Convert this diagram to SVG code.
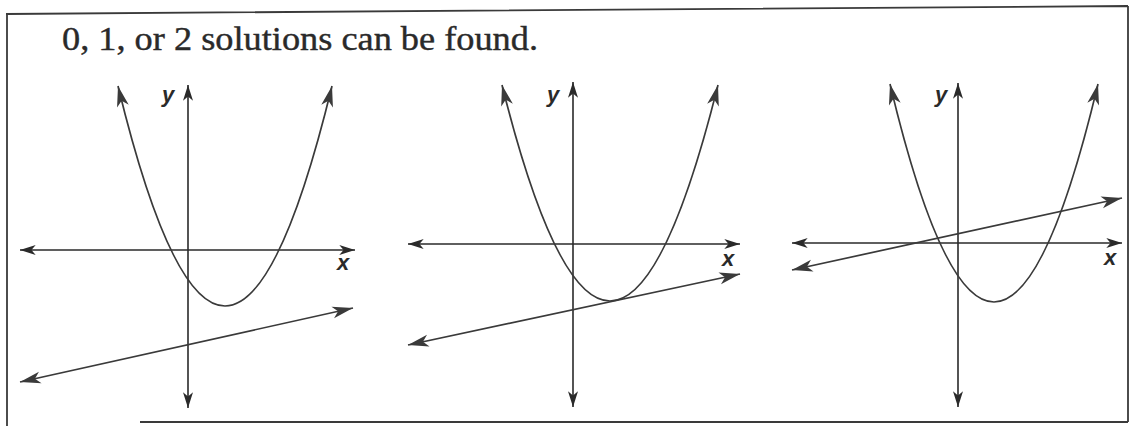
<svg xmlns="http://www.w3.org/2000/svg" width="1130" height="426" viewBox="0 0 1130 426">
<style>
.frame{fill:none;stroke:#3a3a3a;stroke-width:1.8}
.ax{fill:none;stroke:#2a2a2a;stroke-width:1.6;marker-start:url(#sa);marker-end:url(#sa)}
.cv{fill:none;stroke:#3a3a3a;stroke-width:1.7;marker-start:url(#ba);marker-end:url(#ba)}
.title{font-family:"Liberation Serif",serif;font-size:34px;fill:#2a2a2a;stroke:#2a2a2a;stroke-width:0.4}
.lbl{font-family:"Liberation Sans",Arial,sans-serif;font-size:22px;font-weight:bold;font-style:italic;fill:#2a2a2a}
</style>
<defs>
<marker id="sa" markerUnits="userSpaceOnUse" markerWidth="20" markerHeight="20" refX="0" refY="0" viewBox="-12 -6 14 12" orient="auto-start-reverse" overflow="visible">
<path d="M-11,-3.5 L0,0 L-11,3.5 L-8,0 z" fill="#2a2a2a"/>
</marker>
<marker id="ba" markerUnits="userSpaceOnUse" markerWidth="24" markerHeight="24" refX="0" refY="0" viewBox="-20 -7 22 14" orient="auto-start-reverse" overflow="visible">
<path d="M-19,-5.5 L0,0 L-19,5.5 L-14,0 z" fill="#3a3a3a"/>
</marker>
</defs>
<g id="frame">
<path class="frame" d="M6,14 L1128,6 M7,14 L7,426 M1128,6 L1128,422 M140,422 L1128,422"/>
</g>
<g id="title">
<text class="title" x="62" y="50" textLength="476" lengthAdjust="spacingAndGlyphs">0, 1, or 2 solutions can be found.</text>
</g>
<g id="panel1">
<text class="lbl" x="162" y="102">y</text>
<text class="lbl" x="337" y="270">x</text>
</g>
<g id="panel2">
<text class="lbl" x="547" y="102">y</text>
<text class="lbl" x="722" y="266">x</text>
</g>
<g id="panel3">
<text class="lbl" x="935" y="102">y</text>
<text class="lbl" x="1104" y="265">x</text>
</g>
<g id="connectors">
<line class="ax" x1="188" y1="85" x2="188" y2="408"/>
<line class="ax" x1="20" y1="250" x2="355" y2="250"/>
<path class="cv" d="M118,86 Q225,526 332,86"/>
<line class="cv" x1="20" y1="382" x2="353" y2="308"/>

<line class="ax" x1="573" y1="82" x2="573" y2="407"/>
<line class="ax" x1="408" y1="244" x2="740" y2="244"/>
<path class="cv" d="M502,85 Q610,517 718,85"/>
<line class="cv" x1="408" y1="345" x2="740" y2="274"/>

<line class="ax" x1="958" y1="83" x2="958" y2="407"/>
<line class="ax" x1="792" y1="243" x2="1122" y2="243"/>
<path class="cv" d="M890,84 Q994,520 1098,84"/>
<line class="cv" x1="792" y1="270" x2="1122" y2="198"/>
</g>
</svg>
